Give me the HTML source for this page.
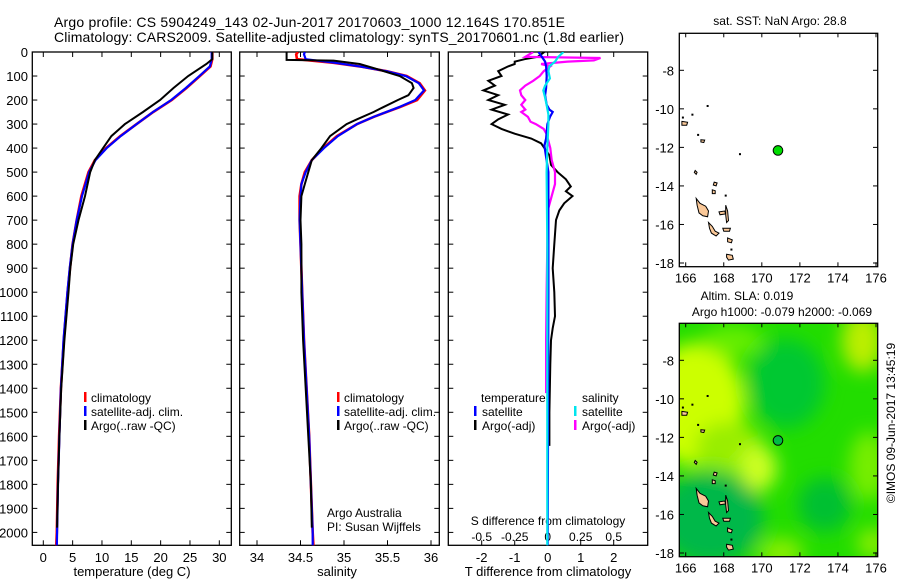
<!DOCTYPE html>
<html><head><meta charset="utf-8"><style>
body{margin:0;background:#fff}
svg{display:block;font-family:"Liberation Sans",Arial,sans-serif}
</style></head><body>
<svg id="c" width="900" height="580" viewBox="0 0 900 580" xmlns="http://www.w3.org/2000/svg">
<defs>
<clipPath id="cp1"><rect x="32.3" y="52" width="199" height="493.3"/></clipPath>
<clipPath id="cp2"><rect x="239.7" y="52" width="199.6" height="493.3"/></clipPath>
<clipPath id="cp3"><rect x="448.3" y="52" width="199.4" height="493.3"/></clipPath>
<clipPath id="cm1"><rect x="679.3" y="33.3" width="198.4" height="232.4"/></clipPath>
<clipPath id="cm2"><rect x="679.3" y="323.3" width="198.4" height="233.4"/></clipPath>
<filter id="blur" x="-50%" y="-50%" width="200%" height="200%"><feGaussianBlur stdDeviation="9"/></filter>
</defs>
<text x="54" y="27" font-size="14" textLength="511">Argo profile: CS 5904249_143 02-Jun-2017 20170603_1000 12.164S 170.851E</text>
<text x="54" y="42" font-size="14" textLength="570">Climatology: CARS2009. Satellite-adjusted climatology: synTS_20170601.nc (1.8d earlier)</text>
<g id="g"></g>
</svg>
<script>
// ---- depth grid for profiles ----
const tDepth = [0,30,60,100,150,200,250,300,350,400,450,500,600,700,800,900,1000,1200,1400,1600,1800,2000,2060];
const tClim  = [28.8,28.8,28.5,26.7,24.4,21.9,18.75,15.9,13.1,10.7,8.8,7.7,6.5,5.7,5.0,4.55,4.15,3.5,3.0,2.7,2.45,2.3,2.2];
const tSat   = [28.7,28.7,28.4,26.6,24.3,21.8,18.7,15.9,13.2,10.8,8.9,7.8,6.6,5.7,5.0,4.5,4.1,3.45,3.0,2.75,2.5,2.35,2.3];
const aDepth = [0,30,50,100,150,200,250,300,350,400,450,500,600,700,800,900,1000,1200,1400,1600,1800,1980];
const tArgo  = [28.8,28.8,27.8,24.7,22.2,19.9,17.0,13.9,11.6,10.2,8.8,8.0,7.1,6.0,5.1,4.6,4.3,3.6,3.05,2.75,2.5,2.35];
const sDepth = [0,10,30,45,60,80,100,130,160,200,230,270,300,350,400,450,500,550,600,700,800,1000,1200,1400,1600,1800,2000,2060];
const sClim  = [34.47,34.45,34.46,34.88,35.18,35.49,35.72,35.87,35.93,35.84,35.64,35.34,35.15,34.92,34.76,34.63,34.55,34.51,34.49,34.49,34.5,34.52,34.54,34.57,34.6,34.62,34.64,34.65];
const sSat   = [34.55,34.54,34.56,34.9,35.18,35.49,35.71,35.86,35.92,35.82,35.63,35.34,35.15,34.93,34.77,34.63,34.56,34.51,34.5,34.49,34.5,34.52,34.54,34.57,34.6,34.62,34.64,34.64];
const saDepth = [0,33,36,50,70,100,130,150,180,200,230,250,280,300,350,400,450,500,550,600,700,800,1000,1200,1400,1600,1800,1980];
const sArgo  = [34.34,34.34,34.88,35.18,35.37,35.64,35.78,35.8,35.74,35.62,35.45,35.34,35.15,35.03,34.84,34.74,34.63,34.59,34.55,34.51,34.5,34.51,34.51,34.53,34.56,34.59,34.62,34.63];
// ---- difference panel ----
const dDepth = [0,20,30,40,50,60,80,100,120,140,160,180,200,220,240,260,280,300,320,340,360,380,400,430,470,500,530,560,580,600,630,660,700,800,900,1000,1100,1150,1200,1300,1500,1640];
const dTArgo = [-0.1,-0.3,-0.7,-1.0,-1.0,-1.2,-1.5,-1.4,-1.8,-1.6,-1.95,-1.5,-1.8,-1.3,-1.7,-1.2,-1.5,-1.7,-1.4,-1.0,-0.5,-0.2,-0.1,0.05,0.1,0.3,0.55,0.7,0.55,0.75,0.5,0.35,0.25,0.2,0.15,0.2,0.22,0.15,0.1,0.08,0.05,0.05];
const msDepth = [0,20,25,35,40,50,60,80,100,120,140,160,180,200,220,240,250,270,290,300,320,340,370,400,450,500,550,600,650,700,800,1000,1200,1420];
const dSArgo = [-0.11,-0.17,0.4,0.35,0.15,-0.05,0.02,-0.03,-0.06,-0.11,-0.17,-0.21,-0.2,-0.17,-0.2,-0.17,-0.2,-0.15,-0.13,-0.09,-0.03,-0.01,0.005,0.02,0.03,0.055,0.055,0.03,0.005,0.0,-0.003,-0.008,-0.012,-0.012];
const bDepth = [0,20,40,60,100,150,180,220,240,250,270,300,360,390,410,500,1000,2060];
const dTSat  = [-0.28,-0.18,-0.08,-0.05,-0.03,-0.05,-0.08,-0.03,0.05,0.15,0.07,-0.01,-0.05,-0.1,-0.08,0.02,0.02,0.0];
const cDepth = [0,20,40,60,80,110,140,160,190,220,260,300,400,500,800,2060];
const dSSat  = [0.12,0.08,0.055,0.012,0.005,0.017,-0.02,-0.033,-0.02,-0.008,0.005,0.005,-0.003,-0.008,-0.003,-0.003];
// ---- ticks ----
const depthTicks = [0,100,200,300,400,500,600,700,800,900,1000,1100,1200,1300,1400,1500,1600,1700,1800,1900,2000];
const tTicks = [0,5,10,15,20,25,30];
const sTicks = [34,34.5,35,35.5,36];
const sTickLabels = ["34","34.5","35","35.5","36"];
const dTicks = [-2,-1,0,1,2];
const dSTicks = [-0.5,-0.25,0,0.25,0.5];
const lonTicks = [166,168,170,172,174,176];
const latTicks = [-8,-10,-12,-14,-16,-18];
// ---- map data ----
const argoLon = 170.85, argoLat = -12.16;
const islands = [
 [[166.55,-14.65],[166.75,-14.9],[167.05,-15.05],[167.2,-15.3],[167.15,-15.6],[166.9,-15.55],[166.7,-15.4],[166.6,-15.0]],
 [[167.2,-15.9],[167.4,-16.1],[167.55,-16.35],[167.75,-16.45],[167.6,-16.6],[167.35,-16.45],[167.25,-16.2]],
 [[168.15,-17.55],[168.45,-17.6],[168.5,-17.8],[168.25,-17.85],[168.15,-17.7]],
 [[167.75,-15.35],[168.05,-15.3],[168.1,-15.45],[167.8,-15.5]],
 [[168.1,-15.0],[168.2,-15.3],[168.25,-15.8],[168.15,-15.9],[168.1,-15.5]],
 [[167.95,-16.2],[168.35,-16.2],[168.3,-16.35],[168.0,-16.35]],
 [[168.2,-16.7],[168.45,-16.8],[168.4,-16.95],[168.2,-16.9]],
 [[167.4,-14.2],[167.55,-14.25],[167.55,-14.4],[167.4,-14.4]],
 [[167.5,-13.8],[167.65,-13.85],[167.6,-14.0],[167.45,-13.95]],
 [[165.8,-10.65],[166.1,-10.7],[166.05,-10.85],[165.8,-10.85]],
 [[166.8,-11.6],[167.0,-11.62],[166.95,-11.75],[166.8,-11.72]],
 [[166.5,-13.2],[166.6,-13.3],[166.55,-13.4],[166.45,-13.3]]
];
const dots = [[166.6,-11.3],[166.3,-10.25],[167.1,-9.8],[168.8,-12.3],[168.05,-14.45],[165.8,-10.4],[168.35,-17.25]];
const slaBlobs = [ // lon, lat, rx(deg), ry(deg), colour
 [166.5,-10.3,2.6,3.2,"#ccff00"],[168.3,-12.5,1.8,1.3,"#99ee00"],[169.8,-13.6,1.0,1.2,"#ccff22"],
 [167.3,-16.2,2.8,2.4,"#00b848"],[171.3,-9.2,2.0,2.3,"#00c830"],[173.3,-15.5,1.4,1.4,"#00c030"],
 [175.3,-7.0,1.1,1.6,"#bbee00"],[175.6,-13.5,1.0,1.8,"#77ee00"],[171.0,-18.0,1.2,0.8,"#88ee00"],
 [168.5,-7.0,1.6,0.8,"#66ee00"],[175.8,-17.5,0.8,0.8,"#88ee00"]
];

const NS="http://www.w3.org/2000/svg", G=document.getElementById('g');
function mk(tag,attrs,parent){const e=document.createElementNS(NS,tag);for(const k in attrs)e.setAttribute(k,attrs[k]);(parent||G).appendChild(e);return e;}
function txt(x,y,s,size,anchor,parent){const t=mk('text',{x:x,y:y,'font-size':size,'text-anchor':anchor||'start'},parent);t.textContent=s;return t;}
const yD=d=>52+d*0.2402;
const xT=t=>43.3+t*5.867, xS=s=>257+(s-34)*87, xD=v=>547.7+v*33, xDS=v=>547.7+v*132;
function line(xs,ds,fx,col,w,clip,name){
  const p=ds.map((d,i)=>fx(xs[i]).toFixed(1)+','+yD(d).toFixed(1)).join(' ');
  const e=mk('polyline',{points:p,fill:'none',stroke:col,'stroke-width':w,'clip-path':'url(#'+clip+')'});
  
  
}
function frame(x0,x1,name){
  const r=mk('rect',{x:x0,y:52,width:x1-x0,height:493.3,fill:'none',stroke:'#000','stroke-width':1.3});
  
  
  depthTicks.forEach(d=>{mk('line',{x1:x0,x2:x0+5,y1:yD(d),y2:yD(d),stroke:'#000'});mk('line',{x1:x1,x2:x1-5,y1:yD(d),y2:yD(d),stroke:'#000'});});
}
// panel 1
frame(32.3,231.3,'temperature-panel-frame');
depthTicks.forEach(d=>{const t=txt(28,yD(d)+5,String(d),13,'end');});
tTicks.forEach(v=>{mk('line',{x1:xT(v),x2:xT(v),y1:545.3,y2:540.3,stroke:'#000'});mk('line',{x1:xT(v),x2:xT(v),y1:52,y2:57,stroke:'#000'});
 const t=txt(xT(v),562,String(v),13,'middle');});
line(tClim,tDepth,xT,'#ff0000',2.6,'cp1','temperature-climatology-line');
line(tSat,tDepth,xT,'#0000ff',2.2,'cp1','temperature-satellite-line');
line(tArgo,aDepth,xT,'#000000',2,'cp1','temperature-argo-line');
let t1=txt(132,576,'temperature (deg C)',13,'middle');
// panel 2
frame(239.7,439.3,'salinity-panel-frame');
sTicks.forEach((v,i)=>{mk('line',{x1:xS(v),x2:xS(v),y1:545.3,y2:540.3,stroke:'#000'});mk('line',{x1:xS(v),x2:xS(v),y1:52,y2:57,stroke:'#000'});
 const t=txt(xS(v),562,sTickLabels[i],13,'middle');});
line(sClim,sDepth,xS,'#ff0000',2.6,'cp2','salinity-climatology-line');
line(sSat,sDepth,xS,'#0000ff',2.2,'cp2','salinity-satellite-line');
line(sArgo,saDepth,xS,'#000000',2,'cp2','salinity-argo-line');
let t2=txt(337,576,'salinity',13,'middle');
let t3=txt(327,517,'Argo Australia',12);
let t4=txt(327,531,'PI: Susan Wijffels',12);
// legends 1 & 2
[[84,'legend-temperature'],[337,'legend-salinity']].forEach(([lx,nm])=>{
 [['#ff0000','climatology'],['#0000ff','satellite-adj. clim.'],['#000000','Argo(..raw -QC)']].forEach(([c,s],i)=>{
  mk('rect',{x:lx,y:392+i*14,width:2.5,height:10,fill:c});
  const t=txt(lx+7,402+i*14,s,12);});
});
// panel 3
frame(448.3,647.7,'difference-panel-frame');
dTicks.forEach(v=>{mk('line',{x1:xD(v),x2:xD(v),y1:545.3,y2:540.3,stroke:'#000'});mk('line',{x1:xD(v),x2:xD(v),y1:52,y2:57,stroke:'#000'});
 const t=txt(xD(v),562,String(v),13,'middle');});
dSTicks.forEach(v=>{const t=txt(xDS(v),541,String(v),12,'middle');});
let t5=txt(548,525,'S difference from climatology',12,'middle');
let t6=txt(548,576,'T difference from climatology',13,'middle');
line(dTArgo,dDepth,xD,'#000000',2,'cp3','t-argo-difference-line');
line(dSArgo,msDepth,xDS,'#ff00ff',2.2,'cp3','s-argo-difference-line');
line(dTSat,bDepth,xD,'#0000ff',2.2,'cp3','t-satellite-difference-line');
line(dSSat,cDepth,xDS,'#00e5ee',2.2,'cp3','s-satellite-difference-line');
let t7=txt(481,402,'temperature',12);
let t8=txt(582,402,'salinity',12);
[[474,'#0000ff','satellite',416],[474,'#000000','Argo(-adj)',430],[574,'#00e5ee','satellite',416],[574,'#ff00ff','Argo(-adj)',430]].forEach(([lx,c,s,yy])=>{
 mk('rect',{x:lx,y:yy-10,width:2.5,height:10,fill:c});
 const t=txt(lx+8,yy,s,12);});
// maps
const mx=lon=>685.7+(lon-166)*19.03;
function drawMap(y0,bg,name,clip){
 const my=lat=>y0+37+(-8-lat)*19.27;
 const g=mk('g',{'clip-path':'url(#'+clip+')'});
 if(bg){mk('rect',{x:679,y:y0,width:199,height:234,fill:'#22dd00'},g);
  const bg2=mk('g',{filter:'url(#blur)'},g);
  slaBlobs.forEach(b=>{const e=mk('ellipse',{cx:mx(b[0]),cy:my(b[1]),rx:b[2]*19,ry:b[3]*19.3,fill:b[4]},bg2);
   
   });
 }
 islands.forEach(p=>{const e=mk('polygon',{points:p.map(q=>mx(q[0]).toFixed(1)+','+my(q[1]).toFixed(1)).join(' '),fill:'#fac898',stroke:'#000','stroke-width':1},g);
  
  });
 dots.forEach(p=>mk('rect',{x:mx(p[0]),y:my(p[1]),width:2,height:2,fill:'#000'},g));
 const c=mk('circle',{cx:mx(argoLon),cy:my(argoLat),r:4.8,fill:bg?'#00bb44':'#00dd00',stroke:'#000','stroke-width':1});
 
 
 const r=mk('rect',{x:679.3,y:y0,width:198.4,height:233.4,fill:'none',stroke:'#000','stroke-width':1.3});
 
 
 lonTicks.forEach(v=>{mk('line',{x1:mx(v),x2:mx(v),y1:y0+233.4,y2:y0+229,stroke:'#000'});mk('line',{x1:mx(v),x2:mx(v),y1:y0,y2:y0+4,stroke:'#000'});
  const t=txt(mx(v),y0+249,String(v),13,'middle');});
 latTicks.forEach(v=>{mk('line',{x1:679.3,x2:684,y1:my(v),y2:my(v),stroke:'#000'});mk('line',{x1:877.7,x2:873,y1:my(v),y2:my(v),stroke:'#000'});
  const t=txt(674,my(v)+5,String(v),13,'end');});
}
drawMap(33.3,false,'sst-map','cm1');
drawMap(323.3,true,'sla-map','cm2');
let t9=txt(780,25,'sat. SST: NaN Argo: 28.8',12,'middle');
let t10=txt(747,300,'Altim. SLA: 0.019',12,'middle');
let t11=txt(782,316,'Argo h1000: -0.079 h2000: -0.069',12,'middle');
let t12=txt(0,0,'©IMOS 09-Jun-2017 13:45:19',12,'middle');t12.setAttribute('transform','translate(895,423) rotate(-90)');


</script>
</body></html>
